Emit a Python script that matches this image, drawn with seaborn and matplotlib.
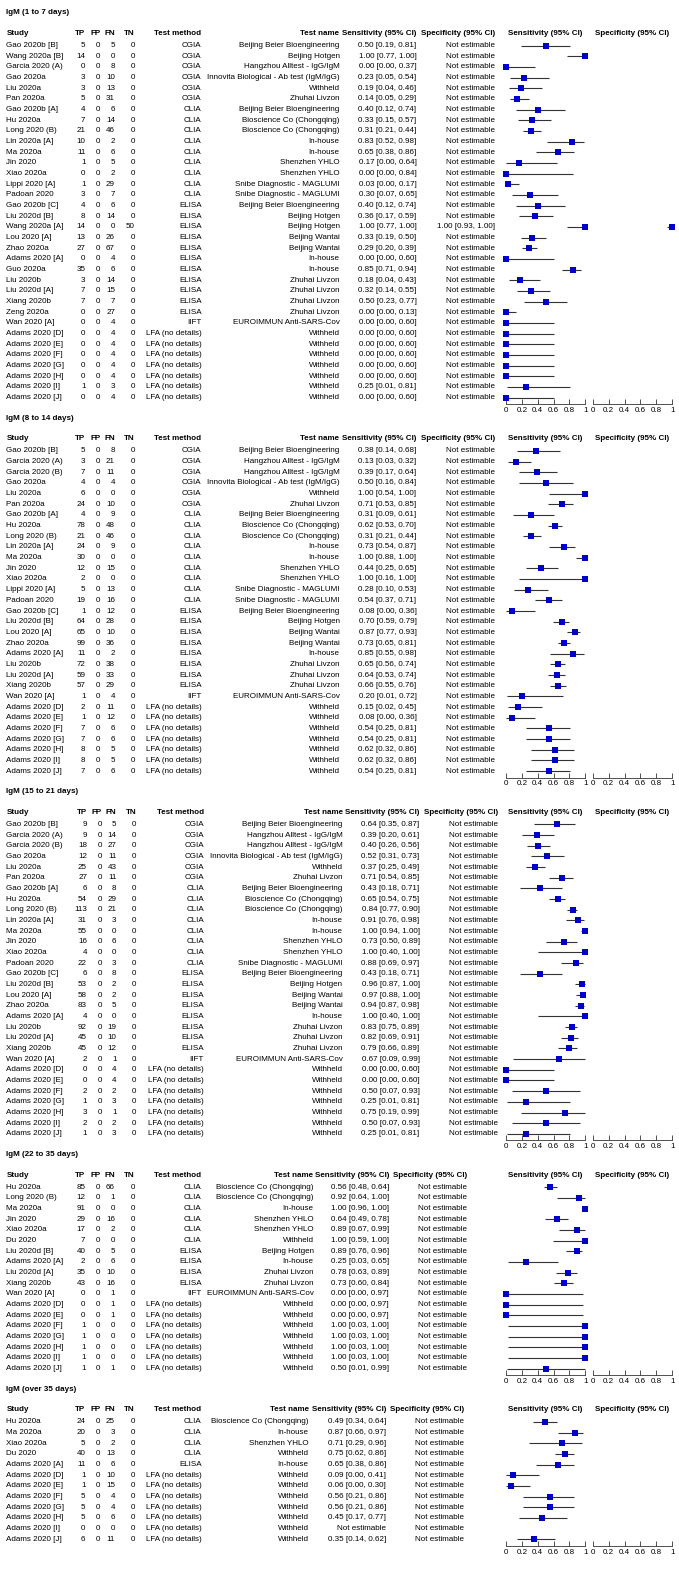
import matplotlib
matplotlib.use("Agg")
import matplotlib.pyplot as plt
import seaborn as sns
import pandas as pd

# ---- IgM (1 to 7 days)
study1 = ["Gao 2020b [B]", "Wang 2020a [B]", "Garcia 2020 (A)", "Gao 2020a", "Liu 2020a", "Pan 2020a",
          "Gao 2020b [A]", "Hu 2020a", "Long 2020 (B)", "Lin 2020a [A]", "Ma 2020a", "Jin 2020",
          "Xiao 2020a", "Lippi 2020 [A]", "Padoan 2020", "Gao 2020b [C]", "Liu 2020d [B]",
          "Wang 2020a [A]", "Lou 2020 [A]", "Zhao 2020a", "Adams 2020 [A]", "Guo 2020a", "Liu 2020b",
          "Liu 2020d [A]", "Xiang 2020b", "Zeng 2020a", "Wan 2020 [A]", "Adams 2020 [D]",
          "Adams 2020 [E]", "Adams 2020 [F]", "Adams 2020 [G]", "Adams 2020 [H]", "Adams 2020 [I]",
          "Adams 2020 [J]"]
tp1 = [5, 14, 0, 3, 3, 5, 4, 7, 21, 10, 11, 1, 0, 1, 3, 4, 8, 14, 13, 27, 0, 35, 3, 7, 7, 0, 0, 0, 0, 0, 0, 0, 1, 0]
fp1 = [0] * 34
fn1 = [5, 0, 8, 10, 13, 31, 6, 14, 46, 2, 6, 5, 2, 29, 7, 6, 14, 0, 26, 67, 4, 6, 14, 15, 7, 27, 4, 4, 4, 4, 4, 4, 3, 4]
tn1 = [0, 0, 0, 0, 0, 0, 0, 0, 0, 0, 0, 0, 0, 0, 0, 0, 0, 50, 0, 0, 0, 0, 0, 0, 0, 0, 0, 0, 0, 0, 0, 0, 0, 0]
method1 = ["CGIA"] * 6 + ["CLIA"] * 9 + ["ELISA"] * 11 + ["IIFT"] + ["LFA (no details)"] * 7
test1 = ["Beijing Beier Bioengineering", "Beijing Hotgen", "Hangzhou Alltest - IgG/IgM",
         "Innovita Biological - Ab test (IgM/IgG)", "Withheld", "Zhuhai Livzon",
         "Beijing Beier Bioengineering", "Bioscience Co (Chongqing)", "Bioscience Co (Chongqing)",
         "In-house", "In-house", "Shenzhen YHLO", "Shenzhen YHLO", "Snibe Diagnostic - MAGLUMI",
         "Snibe Diagnostic - MAGLUMI", "Beijing Beier Bioengineering", "Beijing Hotgen", "Beijing Hotgen",
         "Beijing Wantai", "Beijing Wantai", "In-house", "In-house", "Zhuhai Livzon", "Zhuhai Livzon",
         "Zhuhai Livzon", "Zhuhai Livzon", "EUROIMMUN Anti-SARS-Cov"] + ["Withheld"] * 7
sens1 = [0.50, 1.00, 0.00, 0.23, 0.19, 0.14, 0.40, 0.33, 0.31, 0.83, 0.65, 0.17, 0.00, 0.03, 0.30, 0.40, 0.36,
         1.00, 0.33, 0.29, 0.00, 0.85, 0.18, 0.32, 0.50, 0.00, 0.00, 0.00, 0.00, 0.00, 0.00, 0.00, 0.25, 0.00]
lo1 = [0.19, 0.77, 0.00, 0.05, 0.04, 0.05, 0.12, 0.15, 0.21, 0.52, 0.38, 0.00, 0.00, 0.00, 0.07, 0.12, 0.17,
       0.77, 0.19, 0.20, 0.00, 0.71, 0.04, 0.14, 0.23, 0.00, 0.00, 0.00, 0.00, 0.00, 0.00, 0.00, 0.01, 0.00]
hi1 = [0.81, 1.00, 0.37, 0.54, 0.46, 0.29, 0.74, 0.57, 0.44, 0.98, 0.86, 0.64, 0.84, 0.17, 0.65, 0.74, 0.59,
       1.00, 0.50, 0.39, 0.60, 0.94, 0.43, 0.55, 0.77, 0.13, 0.60, 0.60, 0.60, 0.60, 0.60, 0.60, 0.81, 0.60]
# only one study has an estimable specificity
spec1 = {17: (1.00, 0.93, 1.00)}

# ---- IgM (8 to 14 days)
study2 = ["Gao 2020b [B]", "Garcia 2020 (A)", "Garcia 2020 (B)", "Gao 2020a", "Liu 2020a", "Pan 2020a",
          "Gao 2020b [A]", "Hu 2020a", "Long 2020 (B)", "Lin 2020a [A]", "Ma 2020a", "Jin 2020",
          "Xiao 2020a", "Lippi 2020 [A]", "Padoan 2020", "Gao 2020b [C]", "Liu 2020d [B]", "Lou 2020 [A]",
          "Zhao 2020a", "Adams 2020 [A]", "Liu 2020b", "Liu 2020d [A]", "Xiang 2020b", "Wan 2020 [A]",
          "Adams 2020 [D]", "Adams 2020 [E]", "Adams 2020 [F]", "Adams 2020 [G]", "Adams 2020 [H]",
          "Adams 2020 [I]", "Adams 2020 [J]"]
tp2 = [5, 3, 7, 4, 6, 24, 4, 78, 21, 24, 30, 12, 2, 5, 19, 1, 64, 65, 99, 11, 72, 59, 57, 1, 2, 1, 7, 7, 8, 8, 7]
fp2 = [0] * 31
fn2 = [8, 21, 11, 4, 0, 10, 9, 48, 46, 9, 0, 15, 0, 13, 16, 12, 28, 10, 36, 2, 38, 33, 29, 4, 11, 12, 6, 6, 5, 5, 6]
tn2 = [0] * 31
method2 = ["CGIA"] * 6 + ["CLIA"] * 9 + ["ELISA"] * 8 + ["IIFT"] + ["LFA (no details)"] * 7
test2 = ["Beijing Beier Bioengineering", "Hangzhou Alltest - IgG/IgM", "Hangzhou Alltest - IgG/IgM",
         "Innovita Biological - Ab test (IgM/IgG)", "Withheld", "Zhuhai Livzon",
         "Beijing Beier Bioengineering", "Bioscience Co (Chongqing)", "Bioscience Co (Chongqing)",
         "In-house", "In-house", "Shenzhen YHLO", "Shenzhen YHLO", "Snibe Diagnostic - MAGLUMI",
         "Snibe Diagnostic - MAGLUMI", "Beijing Beier Bioengineering", "Beijing Hotgen", "Beijing Wantai",
         "Beijing Wantai", "In-house", "Zhuhai Livzon", "Zhuhai Livzon", "Zhuhai Livzon",
         "EUROIMMUN Anti-SARS-Cov"] + ["Withheld"] * 7
sens2 = [0.38, 0.13, 0.39, 0.50, 1.00, 0.71, 0.31, 0.62, 0.31, 0.73, 1.00, 0.44, 1.00, 0.28, 0.54, 0.08,
         0.70, 0.87, 0.73, 0.85, 0.65, 0.64, 0.66, 0.20, 0.15, 0.08, 0.54, 0.54, 0.62, 0.62, 0.54]
lo2 = [0.14, 0.03, 0.17, 0.16, 0.54, 0.53, 0.09, 0.53, 0.21, 0.54, 0.88, 0.25, 0.16, 0.10, 0.37, 0.00,
       0.59, 0.77, 0.65, 0.55, 0.56, 0.53, 0.55, 0.01, 0.02, 0.00, 0.25, 0.25, 0.32, 0.32, 0.25]
hi2 = [0.68, 0.32, 0.64, 0.84, 1.00, 0.85, 0.61, 0.70, 0.44, 0.87, 1.00, 0.65, 1.00, 0.53, 0.71, 0.36,
       0.79, 0.93, 0.81, 0.98, 0.74, 0.74, 0.76, 0.72, 0.45, 0.36, 0.81, 0.81, 0.86, 0.86, 0.81]

# ---- IgM (15 to 21 days)
study3 = ["Gao 2020b [B]", "Garcia 2020 (A)", "Garcia 2020 (B)", "Gao 2020a", "Liu 2020a", "Pan 2020a",
          "Gao 2020b [A]", "Hu 2020a", "Long 2020 (B)", "Lin 2020a [A]", "Ma 2020a", "Jin 2020",
          "Xiao 2020a", "Padoan 2020", "Gao 2020b [C]", "Liu 2020d [B]", "Lou 2020 [A]", "Zhao 2020a",
          "Adams 2020 [A]", "Liu 2020b", "Liu 2020d [A]", "Xiang 2020b", "Wan 2020 [A]", "Adams 2020 [D]",
          "Adams 2020 [E]", "Adams 2020 [F]", "Adams 2020 [G]", "Adams 2020 [H]", "Adams 2020 [I]",
          "Adams 2020 [J]"]
tp3 = [9, 9, 18, 12, 25, 27, 6, 54, 113, 31, 55, 16, 4, 22, 6, 53, 58, 83, 4, 92, 45, 45, 2, 0, 0, 2, 1, 3, 2, 1]
fp3 = [0] * 30
fn3 = [5, 14, 27, 11, 43, 11, 8, 29, 21, 3, 0, 6, 0, 3, 8, 2, 2, 5, 0, 19, 10, 12, 1, 4, 4, 2, 3, 1, 2, 3]
tn3 = [0] * 30
method3 = ["CGIA"] * 6 + ["CLIA"] * 8 + ["ELISA"] * 8 + ["IIFT"] + ["LFA (no details)"] * 7
test3 = ["Beijing Beier Bioengineering", "Hangzhou Alltest - IgG/IgM", "Hangzhou Alltest - IgG/IgM",
         "Innovita Biological - Ab test (IgM/IgG)", "Withheld", "Zhuhai Livzon",
         "Beijing Beier Bioengineering", "Bioscience Co (Chongqing)", "Bioscience Co (Chongqing)",
         "In-house", "In-house", "Shenzhen YHLO", "Shenzhen YHLO", "Snibe Diagnostic - MAGLUMI",
         "Beijing Beier Bioengineering", "Beijing Hotgen", "Beijing Wantai", "Beijing Wantai", "In-house",
         "Zhuhai Livzon", "Zhuhai Livzon", "Zhuhai Livzon", "EUROIMMUN Anti-SARS-Cov"] + ["Withheld"] * 7
sens3 = [0.64, 0.39, 0.40, 0.52, 0.37, 0.71, 0.43, 0.65, 0.84, 0.91, 1.00, 0.73, 1.00, 0.88, 0.43, 0.96,
         0.97, 0.94, 1.00, 0.83, 0.82, 0.79, 0.67, 0.00, 0.00, 0.50, 0.25, 0.75, 0.50, 0.25]
lo3 = [0.35, 0.20, 0.26, 0.31, 0.25, 0.54, 0.18, 0.54, 0.77, 0.76, 0.94, 0.50, 0.40, 0.69, 0.18, 0.87,
       0.88, 0.87, 0.40, 0.75, 0.69, 0.66, 0.09, 0.00, 0.00, 0.07, 0.01, 0.19, 0.07, 0.01]
hi3 = [0.87, 0.61, 0.56, 0.73, 0.49, 0.85, 0.71, 0.75, 0.90, 0.98, 1.00, 0.89, 1.00, 0.97, 0.71, 1.00,
       1.00, 0.98, 1.00, 0.89, 0.91, 0.89, 0.99, 0.60, 0.60, 0.93, 0.81, 0.99, 0.93, 0.81]

# ---- IgM (22 to 35 days)
study4 = ["Hu 2020a", "Long 2020 (B)", "Ma 2020a", "Jin 2020", "Xiao 2020a", "Du 2020", "Liu 2020d [B]",
          "Adams 2020 [A]", "Liu 2020d [A]", "Xiang 2020b", "Wan 2020 [A]", "Adams 2020 [D]",
          "Adams 2020 [E]", "Adams 2020 [F]", "Adams 2020 [G]", "Adams 2020 [H]", "Adams 2020 [I]",
          "Adams 2020 [J]"]
tp4 = [85, 12, 91, 29, 17, 7, 40, 2, 35, 43, 0, 0, 0, 1, 1, 1, 1, 1]
fp4 = [0] * 18
fn4 = [66, 1, 0, 16, 2, 0, 5, 6, 10, 16, 1, 1, 1, 0, 0, 0, 0, 1]
tn4 = [0] * 18
method4 = ["CLIA"] * 6 + ["ELISA"] * 4 + ["IIFT"] + ["LFA (no details)"] * 7
test4 = ["Bioscience Co (Chongqing)", "Bioscience Co (Chongqing)", "In-house", "Shenzhen YHLO",
         "Shenzhen YHLO", "Withheld", "Beijing Hotgen", "In-house", "Zhuhai Livzon", "Zhuhai Livzon",
         "EUROIMMUN Anti-SARS-Cov"] + ["Withheld"] * 7
sens4 = [0.56, 0.92, 1.00, 0.64, 0.89, 1.00, 0.89, 0.25, 0.78, 0.73, 0.00, 0.00, 0.00, 1.00, 1.00, 1.00, 1.00, 0.50]
lo4 = [0.48, 0.64, 0.96, 0.49, 0.67, 0.59, 0.76, 0.03, 0.63, 0.60, 0.00, 0.00, 0.00, 0.03, 0.03, 0.03, 0.03, 0.01]
hi4 = [0.64, 1.00, 1.00, 0.78, 0.99, 1.00, 0.96, 0.65, 0.89, 0.84, 0.97, 0.97, 0.97, 1.00, 1.00, 1.00, 1.00, 0.99]

# ---- IgM (over 35 days)
study5 = ["Hu 2020a", "Ma 2020a", "Xiao 2020a", "Du 2020", "Adams 2020 [A]", "Adams 2020 [D]",
          "Adams 2020 [E]", "Adams 2020 [F]", "Adams 2020 [G]", "Adams 2020 [H]", "Adams 2020 [I]",
          "Adams 2020 [J]"]
tp5 = [24, 20, 5, 40, 11, 1, 1, 5, 5, 5, 0, 6]
fp5 = [0] * 12
fn5 = [25, 3, 2, 13, 6, 10, 15, 4, 4, 6, 0, 11]
tn5 = [0] * 12
method5 = ["CLIA"] * 4 + ["ELISA"] + ["LFA (no details)"] * 7
test5 = ["Bioscience Co (Chongqing)", "In-house", "Shenzhen YHLO", "Withheld", "In-house"] + ["Withheld"] * 7
sens5 = [0.49, 0.87, 0.71, 0.75, 0.65, 0.09, 0.06, 0.56, 0.56, 0.45, None, 0.35]
lo5 = [0.34, 0.66, 0.29, 0.62, 0.38, 0.00, 0.00, 0.21, 0.21, 0.17, None, 0.14]
hi5 = [0.64, 0.97, 0.96, 0.86, 0.86, 0.41, 0.30, 0.86, 0.86, 0.77, None, 0.62]

titles = ["IgM (1 to 7 days)", "IgM (8 to 14 days)", "IgM (15 to 21 days)",
          "IgM (22 to 35 days)", "IgM (over 35 days)"]

panels = [
    dict(title=titles[0], study=study1, tp=tp1, fp=fp1, fn=fn1, tn=tn1, method=method1, test=test1,
         sens=sens1, lo=lo1, hi=hi1, spec=spec1),
    dict(title=titles[1], study=study2, tp=tp2, fp=fp2, fn=fn2, tn=tn2, method=method2, test=test2,
         sens=sens2, lo=lo2, hi=hi2, spec={}),
    dict(title=titles[2], study=study3, tp=tp3, fp=fp3, fn=fn3, tn=tn3, method=method3, test=test3,
         sens=sens3, lo=lo3, hi=hi3, spec={}),
    dict(title=titles[3], study=study4, tp=tp4, fp=fp4, fn=fn4, tn=tn4, method=method4, test=test4,
         sens=sens4, lo=lo4, hi=hi4, spec={}),
    dict(title=titles[4], study=study5, tp=tp5, fp=fp5, fn=fn5, tn=tn5, method=method5, test=test5,
         sens=sens5, lo=lo5, hi=hi5, spec={}),
]

# column right edges (px) per panel: tp, fp, fn, tn, method, test name, sensitivity, specificity
cols = [
    (85.5, 100.5, 115, 135, 201.5, 339.5, 416.5, 495),
    (85.5, 100.5, 115, 135, 201.5, 339.5, 416.5, 495),
    (87, 102, 116.5, 136.5, 204, 342.5, 419.5, 498),
    (85.5, 100.5, 115, 135, 201.5, 313.5, 389, 467),
    (85.5, 100.5, 115, 135, 201.5, 308.5, 386, 464),
]

sns.set_theme(style="white")
plt.rcParams['font.family'] = ['Liberation Sans', 'DejaVu Sans']

W, H, DPI = 679, 1581, 100
RH = 10.67        # row pitch in px
FS = 5.8
TXT = "#000000"
LINE = "#333333"
BLUE = "#0000c8"
SENS_X = (506, 585.3)
SPEC_X = (592.7, 672.3)

fig = plt.figure(figsize=(W / DPI, H / DPI), dpi=DPI)
fig.patch.set_facecolor("white")
tab = fig.add_axes([0, 0, 1, 1])
tab.set_xlim(0, W)
tab.set_ylim(H, 0)
tab.axis("off")


def put(x, y, s, ha="right", bold=False):
    tab.text(x, y, s, ha=ha, va="center", fontsize=FS, color=TXT,
             fontweight="bold" if bold else "normal")


def fmt(v, a, b):
    if v is None:
        return "Not estimable"
    return f"{v:.2f} [{a:.2f}, {b:.2f}]"


def forest_axes(x0, x1, y_top, y_bot):
    ax = fig.add_axes([x0 / W, 1 - y_bot / H, (x1 - x0) / W, (y_bot - y_top) / H])
    ax.set_facecolor("none")
    for side in ["top", "left", "right"]:
        ax.spines[side].set_visible(False)
    ax.spines["bottom"].set_color(LINE)
    ax.spines["bottom"].set_linewidth(0.6)
    ax.grid(False)
    return ax


def finish_axes(ax, n):
    ax.set_xlabel("")
    ax.set_ylabel("")
    ax.set_xlim(0, 1)
    ax.set_ylim(n - 1 + 6.5 / RH, -0.5)
    ax.set_yticks([])
    ax.set_xticks([0, 0.2, 0.4, 0.6, 0.8, 1.0])
    ax.set_xticklabels(["0", "0.2", "0.4", "0.6", "0.8", "1"])
    ax.tick_params(axis="x", direction="in", length=3.5, width=0.6, color=LINE, pad=2,
                   labelsize=FS, labelcolor=TXT, bottom=True)


def forest(ax, df):
    ax.hlines(df["row"], df["lo"], df["hi"], color=LINE, linewidth=0.8, clip_on=False, zorder=2)
    sns.scatterplot(data=df, x="est", y="row", marker="s", s=15, color=BLUE, linewidth=0,
                    ax=ax, clip_on=False, zorder=3, legend=False)


first = 45.5
for p, (ctp, cfp, cfn, ctn, cmeth, ctest, csens, cspec) in zip(panels, cols):
    n = len(p["study"])
    last = first + (n - 1) * RH
    head_y = first - 12
    put(6.5, first - 32.5, p["title"], ha="left", bold=True)
    put(6.5, head_y, "Study", ha="left", bold=True)
    for x, lab in zip([ctp, cfp, cfn, ctn, cmeth, ctest, csens, cspec],
                      ["TP", "FP", "FN", "TN", "Test method", "Test name",
                       "Sensitivity (95% CI)", "Specificity (95% CI)"]):
        put(x, head_y, lab, bold=True)
    put(sum(SENS_X) / 2, head_y, "Sensitivity (95% CI)", ha="center", bold=True)
    put(sum(SPEC_X) / 2, head_y, "Specificity (95% CI)", ha="center", bold=True)

    for i in range(n):
        y = first + i * RH
        put(6.5, y, p["study"][i], ha="left")
        put(ctp, y, str(p["tp"][i]))
        put(cfp, y, str(p["fp"][i]))
        put(cfn, y, str(p["fn"][i]))
        put(ctn, y, str(p["tn"][i]))
        put(cmeth, y, p["method"][i])
        put(ctest, y, p["test"][i])
        put(csens, y, fmt(p["sens"][i], p["lo"][i], p["hi"][i]))
        if i in p["spec"]:
            put(cspec, y, fmt(*p["spec"][i]))
        else:
            put(cspec, y, "Not estimable")

    y_top = first - 0.5 * RH
    y_bot = last + 6.5
    ax_s = forest_axes(SENS_X[0], SENS_X[1], y_top, y_bot)
    df = pd.DataFrame({"row": range(n), "est": p["sens"], "lo": p["lo"], "hi": p["hi"]}).dropna()
    forest(ax_s, df)
    finish_axes(ax_s, n)

    ax_p = forest_axes(SPEC_X[0], SPEC_X[1], y_top, y_bot)
    if p["spec"]:
        sp = pd.DataFrame([(k, *v) for k, v in p["spec"].items()], columns=["row", "est", "lo", "hi"])
        forest(ax_p, sp)
    finish_axes(ax_p, n)

    first = last + 5 * RH

fig.savefig("out.png", dpi=DPI, facecolor="white")
